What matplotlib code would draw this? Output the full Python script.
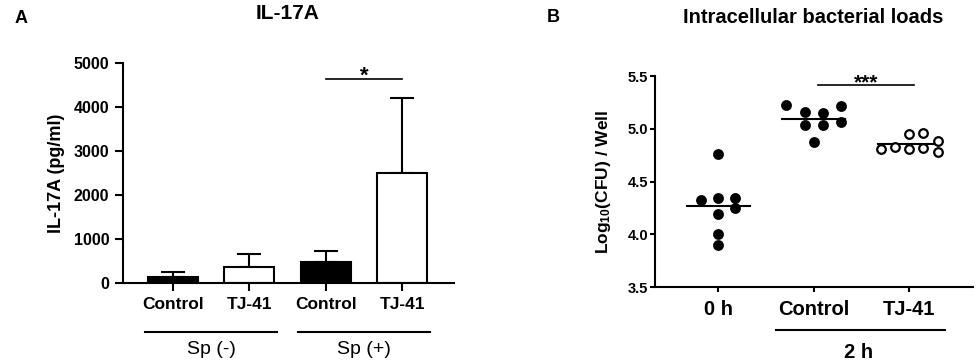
#!/usr/bin/env python3
"""IL-17A bars and intracellular bacterial loads, two panels side by side."""
import numpy as np
import matplotlib
matplotlib.use("Agg")
import matplotlib.pyplot as plt
from matplotlib.transforms import blended_transform_factory

plt.rcParams['font.family'] = ['Liberation Sans', 'DejaVu Sans']
plt.rcParams['mathtext.default'] = 'regular'

# Panel A: IL-17A (pg/ml), mean + upper SD
il17_labels = ["Control", "TJ-41", "Control", "TJ-41"]
il17_mean = [120, 365, 465, 2500]
il17_sd = [115, 287, 250, 1705]
il17_fill = ["black", "white", "black", "white"]
il17_groups = ["Sp (-)", "Sp (+)"]

# Panel B: log10(CFU) per well, one list per group
cfu_labels = ["0 h", "Control", "TJ-41"]
cfu_0h = [4.328, 4.763, 4.347, 4.192, 4.000, 3.896, 4.347, 4.252]
cfu_ctrl = [5.230, 5.158, 5.035, 4.874, 5.151, 5.035, 5.215, 5.060]
cfu_tj41 = [4.808, 4.830, 4.947, 4.808, 4.965, 4.814, 4.884, 4.777]
# horizontal spread of the dots inside each column (category units)
jit_0h = [-0.18, 0, 0, 0, 0, 0, 0.18, 0.18]
jit_ctrl = [-0.29, -0.095, -0.095, 0, 0.10, 0.10, 0.29, 0.29]
jit_tj41 = [-0.29, -0.15, 0, 0, 0.145, 0.145, 0.30, 0.30]

fig = plt.figure(figsize=(9.76, 3.63), dpi=100)
lw = 1.5

# ---------------- Panel A ----------------
ax1 = fig.add_axes([0.1263, 0.2212, 0.3388, 0.6061])
x = np.arange(len(il17_mean))
ax1.bar(x, il17_mean, width=0.655, color=il17_fill, edgecolor="black",
        linewidth=lw, zorder=2)
ax1.errorbar(x, il17_mean, yerr=[[0] * len(x), il17_sd], fmt="none",
             ecolor="black", elinewidth=lw, capsize=8.6, capthick=lw, zorder=1)
ax1.set_xlim(-0.65, 3.68)
ax1.set_ylim(0, 5000)
ax1.set_yticks([0, 1000, 2000, 3000, 4000, 5000])
ax1.set_xticks(x)
ax1.set_xticklabels(il17_labels, fontsize=12.5, fontweight="bold")
for lab in ax1.get_yticklabels():
    lab.set_fontweight("bold")
    lab.set_fontsize(11.5)
ax1.tick_params(axis="both", length=6, width=lw, pad=4)
for s in ["top", "right"]:
    ax1.spines[s].set_visible(False)
for s in ["left", "bottom"]:
    ax1.spines[s].set_linewidth(lw)

# significance bar
ax1.plot([2, 3], [4630, 4630], color="black", lw=1.2, clip_on=False)
ax1.text(2.5, 4560, "*", ha="center", va="baseline", fontsize=16,
         fontweight="bold", clip_on=False)

# group lines under the axis
tr1 = blended_transform_factory(ax1.transData, fig.transFigure)
for i, g in enumerate(il17_groups):
    c = 2 * i + 0.5
    ax1.plot([c - 0.86, c + 0.86], [0.0862, 0.0862], color="black", lw=lw,
             transform=tr1, clip_on=False)
    ax1.text(c, 0.038, g, ha="center", va="center", fontsize=14,
             transform=tr1)

fig.text(0.0584, 0.523, "IL-17A (pg/ml)", rotation=90, ha="center",
         va="center", fontsize=13, fontweight="bold")
fig.text(0.295, 0.962, "IL-17A", ha="center", va="center", fontsize=15,
         fontweight="bold")
fig.text(0.0215, 0.950, "A", ha="center", va="center", fontsize=13,
         fontweight="bold")

# ---------------- Panel B ----------------
ax2 = fig.add_axes([0.6711, 0.2085, 0.3258, 0.5821])
groups = [cfu_0h, cfu_ctrl, cfu_tj41]
jits = [jit_0h, jit_ctrl, jit_tj41]
for i, (vals, jit) in enumerate(zip(groups, jits)):
    xs = i + np.array(jit)
    face = "white" if i == 2 else "black"
    ax2.plot(xs, vals, "o", ms=6.2, mfc=face, mec="black", mew=1.6, zorder=3,
             clip_on=False)
    m = np.mean(vals)
    ax2.plot([i - 0.33, i + 0.33], [m, m], color="black", lw=lw, zorder=2)

ax2.set_xlim(-0.664, 2.67)
ax2.set_ylim(3.5, 5.5)
ax2.set_yticks([3.5, 4.0, 4.5, 5.0, 5.5])
ax2.set_yticklabels(["3.5", "4.0", "4.5", "5.0", "5.5"], fontsize=10.5,
                    fontweight="bold")
ax2.set_xticks(range(len(cfu_labels)))
ax2.set_xticklabels(cfu_labels, fontsize=14.5, fontweight="bold")
ax2.tick_params(axis="both", length=3.5, width=lw)
ax2.tick_params(axis="x", pad=5.5)
ax2.tick_params(axis="y", pad=1.5)
for s in ["top", "right"]:
    ax2.spines[s].set_visible(False)
for s in ["left", "bottom"]:
    ax2.spines[s].set_linewidth(lw)

ax2.plot([1.04, 2.05], [5.415, 5.415], color="black", lw=1.2, clip_on=False)
ax2.text(1.55, 5.38, "***", ha="center", va="baseline", fontsize=15,
         fontweight="bold", clip_on=False)

tr2 = blended_transform_factory(ax2.transData, fig.transFigure)
ax2.plot([0.605, 2.38], [0.0909, 0.0909], color="black", lw=lw,
         transform=tr2, clip_on=False)
ax2.text(1.47, 0.030, "2 h", ha="center", va="center", fontsize=14.5,
         fontweight="bold", transform=tr2)

fig.text(0.618, 0.50, "Log$_{10}$(CFU) / Well", rotation=90, ha="center",
         va="center", fontsize=12.5, fontweight="bold")
fig.text(0.833, 0.953, "Intracellular bacterial loads", ha="center",
         va="center", fontsize=14.5, fontweight="bold")
fig.text(0.567, 0.953, "B", ha="center", va="center", fontsize=13,
         fontweight="bold")

fig.savefig("out.png", dpi=100)
